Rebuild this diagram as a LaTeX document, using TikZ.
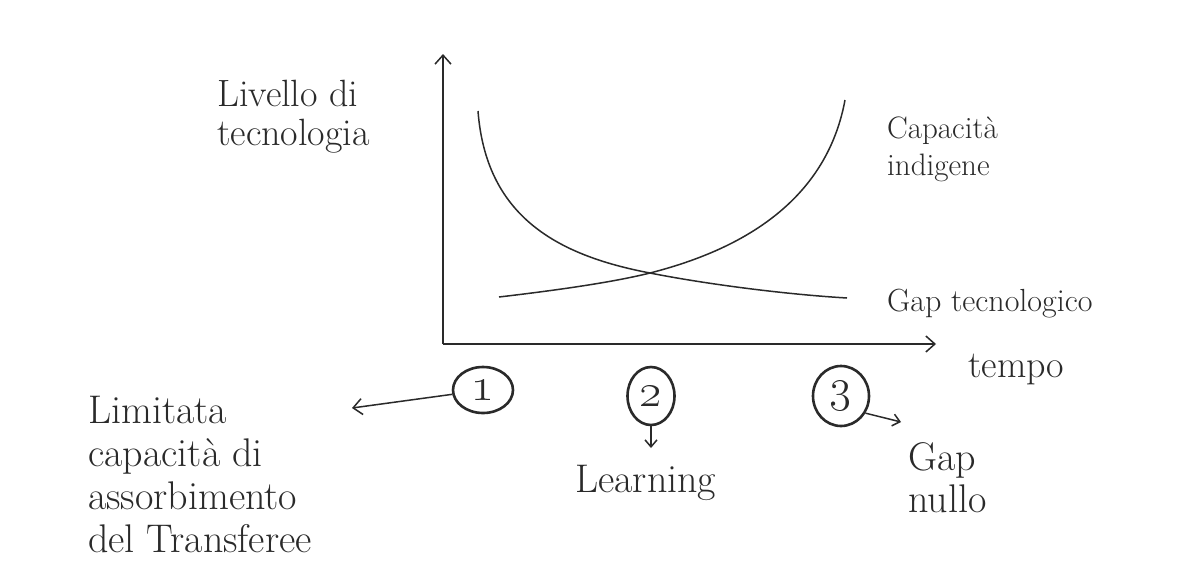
\RequirePackage{fix-cm}
\documentclass[tikz,border=0pt]{standalone}
\usetikzlibrary{arrows.meta,shapes.geometric}
\definecolor{ink}{HTML}{2A2A2A}
\begin{document}
\begin{tikzpicture}[x=1pt,y=-1pt,
  line/.style={draw=ink,line width=1.5pt},
  arr/.style={line,-{Straight Barb[length=9pt,width=16pt,line width=1.5pt]}},
  smallarr/.style={line,-{Straight Barb[length=7pt,width=12pt,line width=1.5pt]}},
  ring/.style={draw=ink,line width=2.6pt,ellipse,inner sep=0pt},
  big/.style={inner sep=0pt,anchor=base west,text=ink,font=\fontsize{40}{43}\selectfont},
  mid/.style={inner sep=0pt,anchor=base west,text=ink,font=\fontsize{31}{37}\selectfont},
  num/.style={text=ink,font=\fontsize{48}{48}\selectfont}]
\useasboundingbox[fill=white] (0,0) rectangle (1179,582);

% axes
\coordinate (O) at (443,344);
\coordinate (ytip) at (443,54);
\coordinate (xtip) at (936,344);
\draw[arr] (O) -- (ytip);
\draw[arr] (O) -- (xtip);

% curves
\coordinate (X) at (650,273);
\coordinate (a0) at (478,111);
\coordinate (a1) at (847,298);
\coordinate (b0) at (499,297);
\coordinate (b1) at (845,100);
\draw[line] (a0) .. controls (486,215) and (555,255) .. (X)
            .. controls (700,283) and (780,294) .. (a1);
\draw[line] (b0) .. controls (550,291) and (610,283) .. (X)
            .. controls (720,255) and (824,214) .. (b1);

% labels
\node[big,font=\fontsize{38}{43}\selectfont] (liv1) at (217,106) {Livello di};
\node[big,font=\fontsize{38}{43}\selectfont] (liv2) at (217,145) {tecnologia};
\node[mid] (cap1) at (887,138) {Capacità};
\node[mid] (cap2) at (887,175) {indigene};
\node[mid,font=\fontsize{32}{37}\selectfont] (gap) at (887,311) {Gap tecnologico};
\node[big,font=\fontsize{38}{43}\selectfont] (tempo) at (968,377) {tempo};

% circled numbers
\node[ring,minimum width=60pt,minimum height=46pt,num] (c1) at (483,390) {\oldstylenums{1}};
\node[ring,minimum width=47pt,minimum height=58pt,num] (c2) at (651,396) {\oldstylenums{2}};
\node[ring,minimum width=56pt,minimum height=60pt,num] (c3) at (841,396) {\oldstylenums{3}};

\coordinate (e1) at (352,408);
\coordinate (e2) at (651,448);
\coordinate (e3) at (901,422);
\draw[arr] (c1.188) -- (e1);
\draw[smallarr] (c2.south) -- (e2);
\draw[smallarr] (c3.-35) -- (e3);

\node[big] (l1) at (88,423) {Limitata};
\node[big] (l2) at (88,466) {capacità di};
\node[big] (l3) at (88,509) {assorbimento};
\node[big] (l4) at (88,552) {del Transferee};
\node[big] (learn) at (575,492) {Learning};
\node[big] (g1) at (908,470) {Gap};
\node[big] (g2) at (908,512) {nullo};
\end{tikzpicture}
\end{document}
